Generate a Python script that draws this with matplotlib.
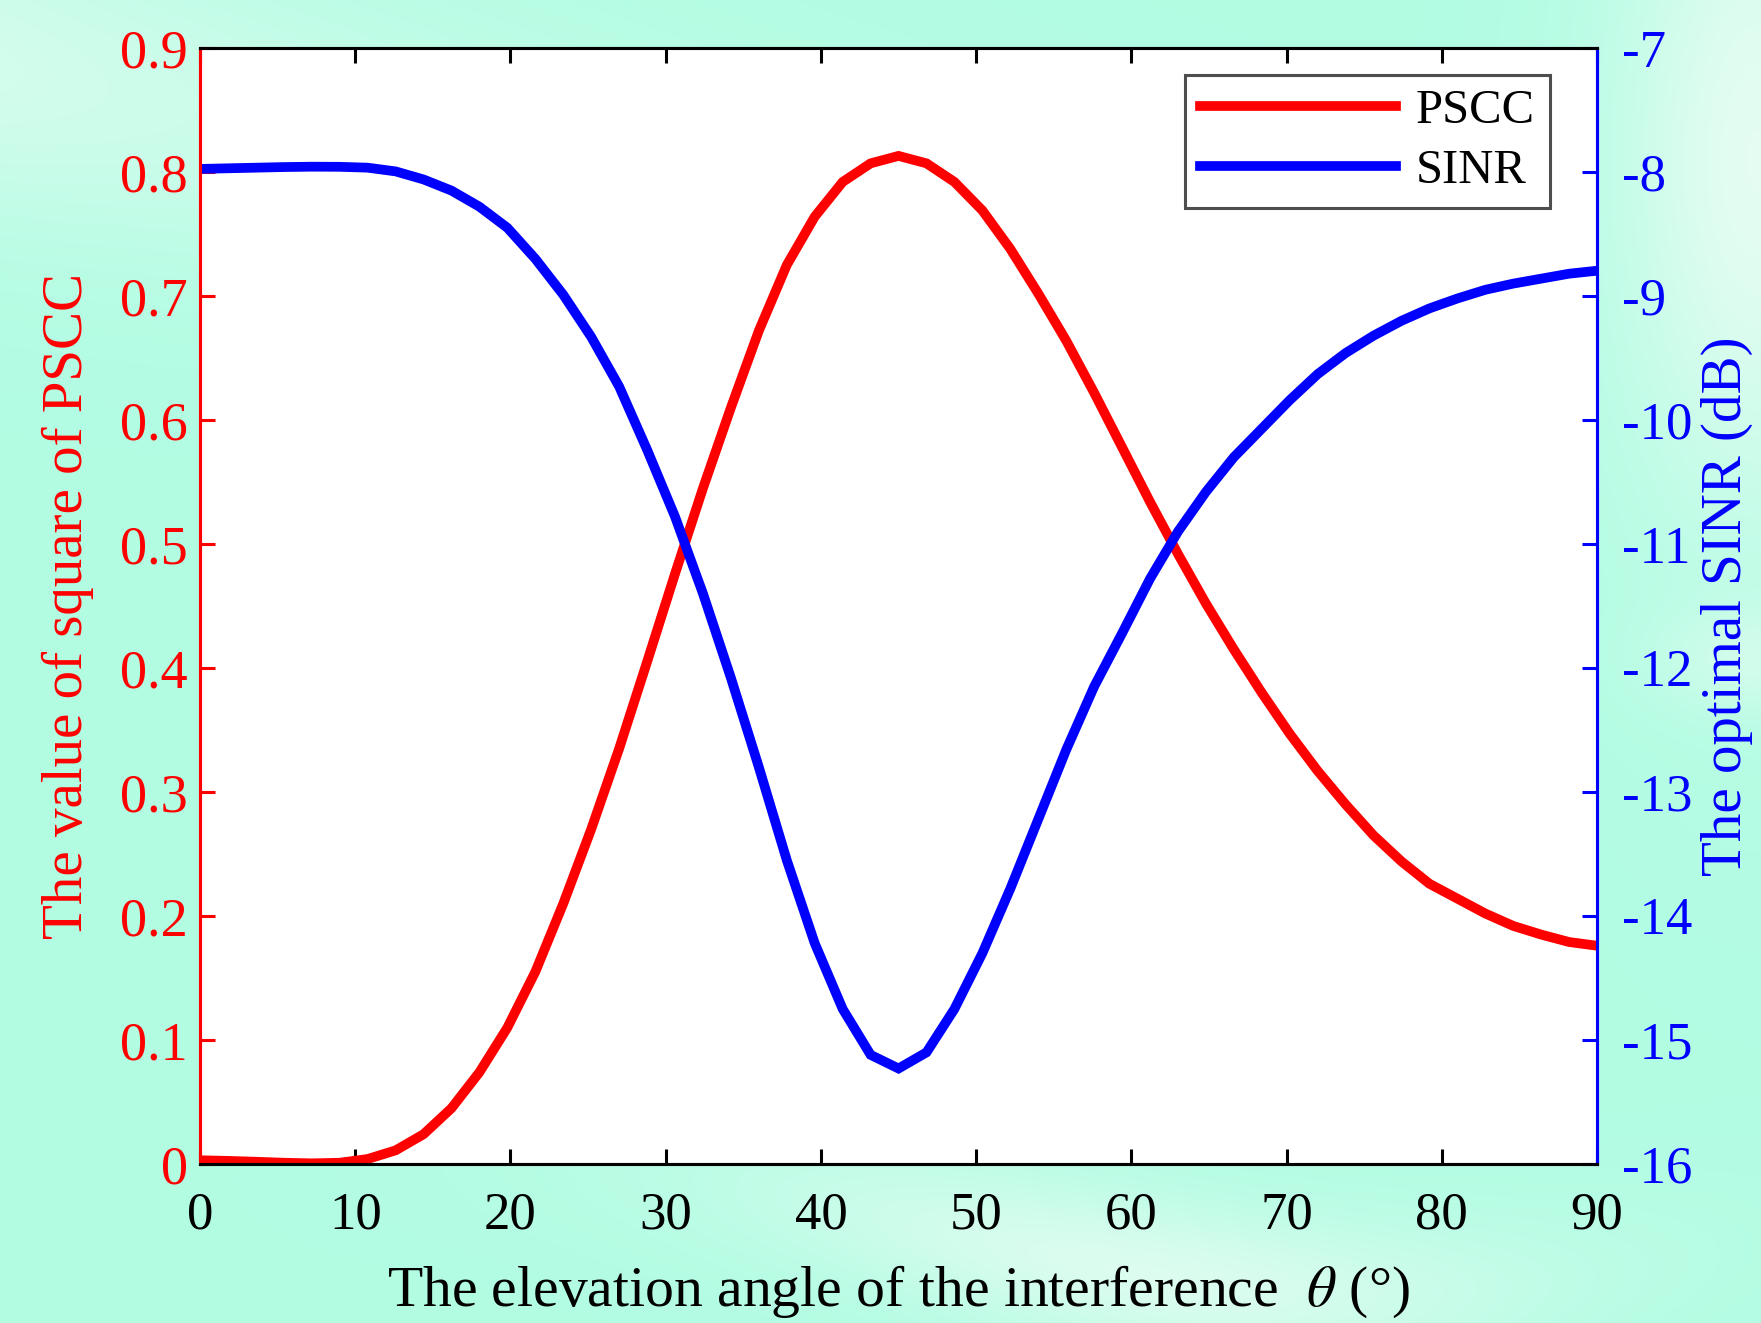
import numpy as np
import matplotlib
matplotlib.use('Agg')
import matplotlib.pyplot as plt

plt.rcParams['font.family'] = ['Liberation Serif', 'DejaVu Serif']
plt.rcParams['mathtext.fontset'] = 'stix'
plt.rcParams['axes.unicode_minus'] = False

# elevation angle of the interference, deg (step 1.8)
theta = [0, 1.8, 3.6, 5.4, 7.2, 9.0, 10.8, 12.6, 14.4, 16.2,
         18.0, 19.8, 21.6, 23.4, 25.2, 27.0, 28.8, 30.6, 32.4, 34.2,
         36.0, 37.8, 39.6, 41.4, 43.2, 45.0, 46.8, 48.6, 50.4, 52.2,
         54.0, 55.8, 57.6, 59.4, 61.2, 63.0, 64.8, 66.6, 68.4, 70.2,
         72.0, 73.8, 75.6, 77.4, 79.2, 81.0, 82.8, 84.6, 86.4, 88.2, 90.0]

pscc = [0.003, 0.0025, 0.0018, 0.001, 0.0005, 0.001, 0.004, 0.011, 0.024, 0.045,
        0.074, 0.110, 0.155, 0.210, 0.270, 0.335, 0.405, 0.476, 0.545, 0.610,
        0.672, 0.725, 0.764, 0.792, 0.807, 0.813, 0.807, 0.792, 0.769, 0.738,
        0.702, 0.664, 0.622, 0.578, 0.534, 0.492, 0.452, 0.415, 0.380, 0.347,
        0.317, 0.290, 0.265, 0.244, 0.226, 0.214, 0.202, 0.192, 0.185, 0.179, 0.176]

sinr = [-7.975, -7.970, -7.965, -7.960, -7.957, -7.958, -7.965, -7.995, -8.06, -8.15,
        -8.28, -8.45, -8.70, -8.99, -9.33, -9.73, -10.24, -10.78, -11.40, -12.08,
        -12.80, -13.55, -14.22, -14.75, -15.12, -15.23, -15.10, -14.75, -14.30, -13.78,
        -13.22, -12.66, -12.15, -11.72, -11.28, -10.90, -10.58, -10.30, -10.07, -9.84,
        -9.63, -9.46, -9.32, -9.20, -9.10, -9.02, -8.95, -8.90, -8.86, -8.82, -8.796]

xticks = [0, 10, 20, 30, 40, 50, 60, 70, 80, 90]
left_ticks = [0, 0.1, 0.2, 0.3, 0.4, 0.5, 0.6, 0.7, 0.8, 0.9]
left_labels = ['0', '0.1', '0.2', '0.3', '0.4', '0.5', '0.6', '0.7', '0.8', '0.9']
right_ticks = [-16, -15, -14, -13, -12, -11, -10, -9, -8, -7]
right_labels = ['-16', '-15', '-14', '-13', '-12', '-11', '-10', '-9', '-8', '-7']

fig = plt.figure(figsize=(17.61, 13.23), dpi=100)

# mint background with soft light streaks
bg = fig.add_axes([0, 0, 1, 1], zorder=-10)
yy, xx = np.mgrid[0:1:260j, 0:1:350j]
light = 0.55 * np.exp(-((yy - 0.05 - 0.25 * xx) / 0.12) ** 2) * (1 - xx) ** 2
light += 0.7 * np.exp(-((yy - 0.93 + 0.05 * np.sin(6 * xx)) / 0.06) ** 2) * np.exp(-((xx - 0.65) / 0.22) ** 2)
light += 0.85 * np.exp(-((xx - 1.0) / 0.08) ** 2) * np.exp(-((yy - 0.12) / 0.28) ** 2)
light += 0.4 * np.exp(-((yy - 0.5) / 0.04) ** 2) * np.exp(-((xx - 1.0) / 0.06) ** 2)
light = np.clip(light, 0, 1)
mint = np.array([0.70, 0.99, 0.89])
img = mint[None, None, :] * (1 - light[..., None]) + np.array([0.93, 0.99, 0.96])[None, None, :] * light[..., None]
bg.imshow(img, aspect='auto', extent=[0, 1, 0, 1], interpolation='bilinear')
bg.axis('off')

ax = fig.add_axes([0.1136, 0.1202, 0.7933, 0.8435])
ax.set_facecolor('white')
ax2 = ax.twinx()

l1, = ax.plot(theta, pscc, color='#ff0000', lw=7, label='PSCC', solid_joinstyle='miter')
l2, = ax2.plot(theta, sinr, color='#0000ff', lw=7, label='SINR', solid_joinstyle='miter')

ax.set_xlim(0, 90)
ax.set_ylim(0, 0.9)
ax2.set_ylim(-16, -7)
ax.set_xticks(xticks)
ax.set_xticklabels([str(t) for t in xticks])
ax.set_yticks(left_ticks)
ax.set_yticklabels(left_labels)
ax2.set_yticks(right_ticks)
ax2.set_yticklabels(right_labels)

ax.tick_params(axis='x', direction='in', length=11, width=2.2, top=True, labelsize=38, pad=20, colors='black')
ax.tick_params(axis='y', direction='in', length=11, width=2.2, labelsize=39, pad=9, colors='red')
ax2.tick_params(axis='y', direction='in', length=11, width=2.2, labelsize=38, pad=18, colors='blue')

for a in (ax, ax2):
    for s in a.spines.values():
        s.set_linewidth(2.2)
    a.spines['top'].set_color('black')
    a.spines['bottom'].set_color('black')
ax.spines['left'].set_color('red')
ax2.spines['left'].set_color('red')
ax.spines['right'].set_color('blue')
ax2.spines['right'].set_color('blue')

ax.set_xlabel('The elevation angle of the interference  $\\theta$ (°)', fontsize=41.5)
ax.xaxis.set_label_coords(0.5, -0.089)
ax.set_ylabel('The value of square of PSCC', fontsize=41, color='red')
ax.yaxis.set_label_coords(-0.076, 0.5)
ax2.set_ylabel('The optimal SINR (dB)', fontsize=41, color='blue', rotation=90)
ax2.yaxis.set_label_coords(1.074, 0.5)

leg = ax2.legend(handles=[l1, l2], loc='upper right', bbox_to_anchor=(0.966, 0.976),
                 fontsize=35, handlelength=4.05, frameon=True, fancybox=False,
                 borderpad=0.3, labelspacing=0.32, handletextpad=0.4, borderaxespad=0)
leg.get_frame().set_edgecolor('#222222')
leg.get_frame().set_linewidth(2.2)

fig.savefig('out.png', dpi=100)
